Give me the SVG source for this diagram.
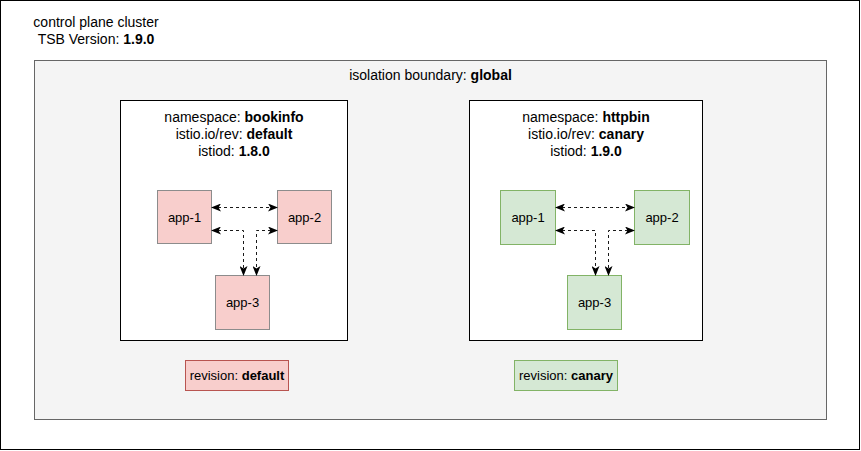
<svg xmlns="http://www.w3.org/2000/svg" width="861" height="451" viewBox="0 0 861 451">
<style>
text{font-family:"Liberation Sans",Arial,Helvetica,sans-serif;fill:#000;}
.t14{font-size:14px;text-anchor:middle;}
.t13{font-size:13px;text-anchor:middle;}
b,.b{font-weight:bold;}
.ns{fill:#fff;stroke:#000;stroke-width:1;}
.red{fill:#f8cecc;stroke:#b85450;stroke-width:1;}
.green{fill:#d5e8d4;stroke:#82b366;stroke-width:1;}
.appr{fill:#f8cecc;stroke:#8c8c8c;stroke-width:1;}
.appg{fill:#d5e8d4;stroke:#82b366;stroke-width:1;}
.conn{fill:none;stroke:#1a1a1a;stroke-width:1;stroke-dasharray:3 3;marker-start:url(#ah);marker-end:url(#ah);}
</style>
<defs>
<marker id="ah" viewBox="0 0 10 8" refX="9" refY="4" markerWidth="10" markerHeight="8" markerUnits="userSpaceOnUse" orient="auto-start-reverse">
<path d="M0,0 L10,4 L0,8 L2.5,4 Z" fill="#000"/>
</marker>
</defs>
<g id="cluster">
<rect x="0.5" y="0.5" width="859" height="449" fill="#fff" stroke="#000"/>
<text class="t14" x="96" y="27">control plane cluster</text>
<text class="t14" x="96" y="44">TSB Version: <tspan class="b">1.9.0</tspan></text>
</g>
<g id="isolation-boundary">
<rect x="34.5" y="60.5" width="792" height="359" fill="#f4f4f4" stroke="#666"/>
<text class="t14" x="430.5" y="80">isolation boundary: <tspan class="b">global</tspan></text>
</g>
<g id="ns-bookinfo">
<rect class="ns" x="120.5" y="100.5" width="227" height="240"/>
<text class="t14" x="234" y="122">namespace: <tspan class="b">bookinfo</tspan></text>
<text class="t14" x="234" y="139">istio.io/rev: <tspan class="b">default</tspan></text>
<text class="t14" x="234" y="156">istiod: <tspan class="b">1.8.0</tspan></text>
</g>
<g id="ns-httpbin">
<rect class="ns" x="469.5" y="100.5" width="233" height="240"/>
<text class="t14" x="586" y="122">namespace: <tspan class="b">httpbin</tspan></text>
<text class="t14" x="586" y="139">istio.io/rev: <tspan class="b">canary</tspan></text>
<text class="t14" x="586" y="156">istiod: <tspan class="b">1.9.0</tspan></text>
</g>
<g id="bookinfo-app-1">
<rect class="appr" x="157.5" y="190.5" width="54" height="53"/>
<text class="t13" x="184.5" y="222">app-1</text>
</g>
<g id="bookinfo-app-2">
<rect class="appr" x="277.5" y="190.5" width="54" height="53"/>
<text class="t13" x="304.5" y="222">app-2</text>
</g>
<g id="bookinfo-app-3">
<rect class="appr" x="215.5" y="275.5" width="54" height="54"/>
<text class="t13" x="242.5" y="307">app-3</text>
</g>
<g id="httpbin-app-1">
<rect class="appg" x="500.5" y="190.5" width="55" height="54"/>
<text class="t13" x="528" y="222">app-1</text>
</g>
<g id="httpbin-app-2">
<rect class="appg" x="634.5" y="190.5" width="55" height="54"/>
<text class="t13" x="662" y="222">app-2</text>
</g>
<g id="httpbin-app-3">
<rect class="appg" x="567.5" y="275.5" width="54" height="54"/>
<text class="t13" x="594.5" y="307">app-3</text>
</g>
<g id="revision-default">
<rect class="red" x="185.5" y="360.5" width="103" height="30"/>
<text class="t13" x="237" y="380">revision: <tspan class="b">default</tspan></text>
</g>
<g id="revision-canary">
<rect class="green" x="514.5" y="360.5" width="103" height="30"/>
<text class="t13" x="566" y="380">revision: <tspan class="b">canary</tspan></text>
</g>
<g id="connectors">
<path class="conn" d="M212,207.5 L277,207.5"/>
<path class="conn" d="M212,230.5 L243.5,230.5 L243.5,275"/>
<path class="conn" d="M277,230.5 L256.5,230.5 L256.5,275"/>
<path class="conn" d="M556,207.5 L634,207.5"/>
<path class="conn" d="M556,230.5 L595.5,230.5 L595.5,275"/>
<path class="conn" d="M634,230.5 L608.5,230.5 L608.5,275"/>
</g>
</svg>
